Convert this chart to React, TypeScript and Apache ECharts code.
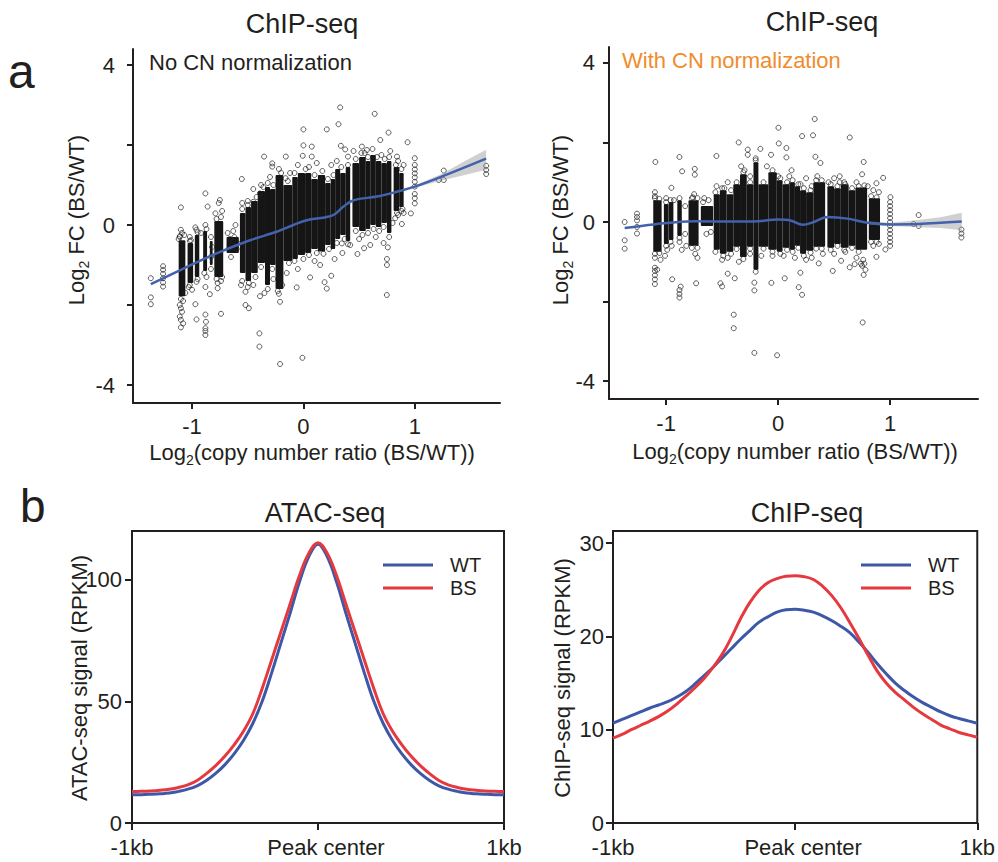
import React, { useEffect, useRef } from 'react';
import * as echarts from 'echarts';

const FONT = "'Liberation Sans', Arial, Helvetica, sans-serif";
const INK = '#231f20';
const BLUE = '#3d58a7';
const RED = '#e5393f';
const LOESS = '#4262ad';
const ORANGE = '#f08c2c';

// ---------- panel a : tick values ----------
const cnTicks = [-1, 0, 1];
const fcTicks = [-4, -2, 0, 2, 4];
const fcLabels = [-4, 0, 4];

// ---------- panel a (left): No CN normalization ----------
// dense cores of the point cloud: [xFrom, xTo, yLow, yHigh]
const leftCore = [
  [-1.12, -1.06, -1.78, -0.38],
  [-1.04, -0.99, -1.45, -0.45],
  [-0.975, -0.935, -1.3, -0.25],
  [-0.9, -0.865, -1.15, -0.15],
  [-0.84, -0.815, -1.0, -0.4],
  [-0.8, -0.72, -1.3, 0.1],
  [-0.69, -0.58, -0.7, -0.3],
  [-0.57, -0.52, -1.2, 0.3],
  [-0.52, -0.47, -1.4, 0.45],
  [-0.47, -0.41, -1.2, 0.6],
  [-0.41, -0.345, -0.95, 0.85],
  [-0.345, -0.3, -1.5, 0.95],
  [-0.3, -0.25, -1.0, 0.9],
  [-0.25, -0.18, -1.6, 1.25],
  [-0.18, -0.1, -0.9, 1.0],
  [-0.1, -0.05, -0.85, 1.2],
  [-0.05, 0.015, -0.75, 1.3],
  [0.015, 0.07, -0.7, 1.3],
  [0.07, 0.13, -0.6, 1.15],
  [0.13, 0.195, -0.66, 1.25],
  [0.195, 0.245, -0.5, 1.05],
  [0.245, 0.285, -0.6, 1.15],
  [0.285, 0.33, -0.35, 1.4],
  [0.33, 0.38, -0.25, 1.3],
  [0.38, 0.42, -0.4, 1.45],
  [0.44, 0.5, -0.05, 1.55],
  [0.5, 0.56, -0.15, 1.7],
  [0.56, 0.6, -0.1, 1.6],
  [0.6, 0.65, 0.0, 1.75],
  [0.65, 0.7, -0.05, 1.6],
  [0.7, 0.75, 0.05, 1.55],
  [0.75, 0.79, -0.2, 1.6],
  [0.81, 0.86, 0.35, 1.45],
  [0.86, 0.9, 0.45, 1.3],
];
// sparse points: [log2 CN ratio, log2 FC]
const leftPoints = [
  [-1.37, -1.33], [-1.37, -1.81], [-1.37, -1.98],
  [-1.26, -1.03], [-1.26, -1.12], [-1.26, -1.22], [-1.26, -1.33], [-1.26, -1.44], [-1.26, -1.54],
  [-1.1, 0.44], [-1.1, -0.12], [-1.09, -0.2], [-1.11, -0.28], [-1.08, -1.9], [-1.11, -2.0], [-1.1, -2.08],
  [-1.09, -2.17], [-1.11, -2.29], [-1.1, -2.37], [-1.08, -2.46], [-1.1, -2.56],
  [-1.02, -0.3], [-1.01, -0.38], [-1.03, -1.55], [-1.0, -1.62],
  [-0.97, -0.06], [-0.96, -0.12], [-0.96, -1.42], [-0.97, -1.98], [-0.96, -2.36],
  [-0.88, 0.79], [-0.86, 0.46], [-0.88, 0.0], [-0.87, -1.3], [-0.88, -1.55], [-0.88, -2.24],
  [-0.875, -2.42], [-0.88, -2.58], [-0.88, -2.65], [-0.88, -2.75], [-0.84, -1.73],
  [-0.83, -0.3], [-0.83, -1.1], [-0.82, -0.55], [-0.83, -0.8],
  [-0.79, 0.29], [-0.75, 0.625], [-0.74, -2.22], [-0.77, -1.58], [-0.76, 0.55], [-0.73, 0.35], [-0.74, -1.4], [-0.77, -1.45],
  [-0.68, -0.2], [-0.66, -0.35], [-0.64, -0.5], [-0.62, -0.3], [-0.6, -0.6], [-0.67, -0.6], [-0.63, -0.15],
  [-0.59, -0.45], [-0.65, -0.8], [-0.61, 0.0],
  [-0.553, 1.15], [-0.55, 0.55], [-0.52, -2.0], [-0.49, -2.08], [-0.52, -1.67], [-0.45, 0.58], [-0.39, 0.79],
  [-0.39, -1.78], [-0.395, -2.71], [-0.395, -3.04], [-0.353, 1.71],
  [-0.28, 1.54], [-0.28, 1.46], [-0.21, -3.475], [-0.21, -1.92], [-0.22, -1.72], [-0.16, 1.17], [-0.158, 1.71],
  [-0.06, -1.56], [-0.009, -3.32], [-0.006, 1.73], [0.0, 2.39], [0.0, 1.99], [-0.05, 1.5],
  [0.06, -1.31], [0.075, 1.96], [0.075, 1.71], [0.19, -1.43], [0.21, -1.59], [0.25, -1.27], [0.21, 2.39],
  [0.315, 2.52], [0.33, 2.94], [0.336, 1.98], [0.375, 1.89], [0.4, 1.71], [0.345, -0.46],
  [0.485, -0.725], [0.545, -0.58], [0.6, -0.5], [0.525, 1.96], [0.57, 1.875], [0.64, 2.78], [0.69, 2.125],
  [0.764, 2.31], [0.758, -0.56], [0.749, -1.75], [0.84, 1.71], [0.935, 2.07],
  [0.965, 0.29], [0.824, 0.17], [0.884, 0.025],
  [1.0, 1.67], [1.0, 1.5], [1.0, 1.39], [1.0, 1.29], [1.0, 1.19], [1.0, 1.08], [1.0, 0.96], [1.0, 0.775], [1.0, 0.67], [1.0, 0.54],
  [1.215, 1.125], [1.26, 1.36], [1.26, 1.125],
  [1.641, 1.48], [1.641, 1.375], [1.641, 1.275],
  [-0.3, 1.2], [-0.22, 1.4], [-0.12, 1.3], [0.05, 1.45], [0.12, 1.55], [0.25, 1.5], [0.3, 1.6], [0.45, 1.85],
  [0.55, 1.8], [0.62, 1.9], [0.7, 1.75], [0.78, 1.85], [0.85, 1.6], [0.9, 1.5], [-0.5, 0.6], [-0.45, 0.9], [-0.38, 1.0],
  [-0.45, -1.5], [-0.35, -1.7], [-0.27, -1.35], [-0.15, -1.2], [-0.05, -1.1], [0.1, -0.9], [0.15, -1.0],
  [0.28, -0.85], [0.35, -0.7], [0.42, -0.5], [0.5, -0.35], [0.65, -0.3], [0.72, -0.45], [0.75, -0.85],
  [0.75, -1.0], [0.8, 0.05], [0.85, 0.25], [0.9, 0.3], [0.88, 0.35], [-0.56, -1.5], [-0.5, -1.55],
  [-1.11, -0.3], [-1.07, -0.25], [-1.12, -0.35], [-1.02, -0.4], [-0.95, -0.18], [-0.92, -0.2], [-0.87, -0.1],
  [-0.78, 0.15], [-0.74, 0.2], [-0.55, 0.4], [-0.5, 0.5], [-0.42, 0.7], [-0.36, 0.95], [-0.32, 1.05],
  [-0.27, 1.0], [-0.2, 1.3], [-0.14, 1.1], [-0.08, 1.3], [0.02, 1.4], [0.1, 1.25], [0.17, 1.35], [0.22, 1.15],
  [0.27, 1.25], [0.34, 1.45], [0.4, 1.5], [0.47, 1.65], [0.52, 1.8], [0.58, 1.7], [0.66, 1.7], [0.73, 1.65],
  [0.77, 1.7], [0.83, 1.5], [0.88, 1.4],
  [-1.1, -1.85], [-1.06, -1.7], [-1.02, -1.5], [-0.95, -1.35], [-0.89, -1.2], [-0.78, -1.35], [-0.73, -1.3],
  [-0.55, -1.4], [-0.49, -1.45], [-0.43, -1.3], [-0.38, -1.05], [-0.32, -1.6], [-0.28, -1.1], [-0.23, -1.65],
  [-0.19, -1.5], [-0.13, -0.95], [-0.08, -0.9], [0.0, -0.85], [0.05, -0.75], [0.12, -0.7], [0.18, -0.72],
  [0.23, -0.6], [0.3, -0.45], [0.37, -0.35], [0.4, -0.48], [0.47, -0.15], [0.53, -0.25], [0.58, -0.2],
  [0.63, -0.1], [0.68, -0.15], [0.72, -0.05], [0.77, -0.3], [0.84, 0.3], [0.89, 0.4],
];
const leftLoessX = [-1.37, -1.1, -0.78, -0.48, -0.24, -0.09, 0.03, 0.19, 0.27, 0.36, 0.45, 0.66, 0.81, 1.0, 1.25, 1.64];
const leftLoessY = [-1.48, -1.12, -0.71, -0.38, -0.17, 0.0, 0.12, 0.19, 0.25, 0.46, 0.62, 0.71, 0.81, 0.96, 1.22, 1.66];
const leftBandX = [0.8, 1.0, 1.25, 1.45, 1.64];
const leftBandLo = [0.78, 0.93, 1.12, 1.25, 1.38];
const leftBandHi = [0.82, 0.99, 1.29, 1.6, 1.88];

// ---------- panel a (right): With CN normalization ----------
const rightCore = [
  [-1.115, -1.04, -0.75, 0.55],
  [-1.02, -0.977, -0.55, 0.45],
  [-0.975, -0.935, -0.45, 0.5],
  [-0.9, -0.86, -0.35, 0.55],
  [-0.8, -0.71, -0.6, 0.55],
  [-0.69, -0.58, -0.1, 0.4],
  [-0.575, -0.52, -0.7, 0.7],
  [-0.52, -0.46, -0.8, 0.8],
  [-0.46, -0.4, -0.75, 0.7],
  [-0.4, -0.34, -0.62, 0.95],
  [-0.34, -0.28, -0.88, 1.2],
  [-0.28, -0.22, -0.62, 0.95],
  [-0.22, -0.176, -1.2, 1.5],
  [-0.176, -0.087, -0.62, 0.95],
  [-0.087, -0.012, -0.7, 1.25],
  [-0.012, 0.04, -0.75, 1.05],
  [0.04, 0.1, -0.65, 0.95],
  [0.1, 0.15, -0.7, 1.0],
  [0.15, 0.196, -0.6, 0.9],
  [0.196, 0.25, -0.8, 0.8],
  [0.25, 0.315, -0.72, 0.75],
  [0.315, 0.42, -0.62, 1.0],
  [0.44, 0.5, -0.65, 0.9],
  [0.5, 0.56, -0.55, 0.85],
  [0.56, 0.63, -0.65, 0.95],
  [0.63, 0.69, -0.6, 0.8],
  [0.69, 0.795, -0.7, 0.87],
  [0.81, 0.91, -0.45, 0.6],
];
const rightPoints = [
  [-1.37, 0.0], [-1.37, -0.46], [-1.37, -0.67],
  [-1.26, 0.21], [-1.26, 0.125], [-1.26, 0.04], [-1.26, -0.125], [-1.26, -0.29],
  [-1.096, 1.51], [-1.1, 0.75], [-1.1, 0.65], [-1.1, -0.9], [-1.1, -1.15], [-1.1, -1.23], [-1.1, -1.34],
  [-1.1, -1.44], [-1.1, -1.56], [-1.08, -1.2], [-1.05, -0.95],
  [-1.0, 0.6], [-0.99, -0.7], [-1.01, -0.85],
  [-0.953, 0.86], [-0.946, -1.44], [-0.93, 0.55], [-0.95, -0.6],
  [-0.881, 1.635], [-0.857, 1.275], [-0.881, -1.71], [-0.881, -1.81], [-0.881, -1.9], [-0.87, -1.625],
  [-0.86, -0.7], [-0.88, -0.5],
  [-0.83, 0.4], [-0.83, -0.3], [-0.82, -0.6],
  [-0.744, 1.335], [-0.744, 1.19], [-0.732, -1.54], [-0.75, 0.7], [-0.74, -0.8], [-0.72, -0.9], [-0.76, 0.62],
  [-0.66, 0.6], [-0.64, -0.3], [-0.62, 0.55], [-0.6, -0.25], [-0.67, 0.5],
  [-0.551, 1.66], [-0.55, 0.9], [-0.515, -1.54], [-0.5, -1.62], [-0.45, -1.3], [-0.387, -1.415],
  [-0.396, -2.33], [-0.396, -2.67], [-0.352, 2.0], [-0.33, 1.4],
  [-0.271, 1.82], [-0.271, 1.69], [-0.212, -1.72], [-0.212, -1.525], [-0.212, -3.29], [-0.2, 1.6],
  [-0.158, 1.84], [-0.063, 1.69], [-0.06, -1.53], [-0.009, -3.35], [0.003, 2.37], [0.006, 1.975],
  [0.059, -1.415], [0.074, 1.86], [0.074, 1.625], [0.12, 1.3], [0.184, -1.64], [0.214, -1.83], [0.199, -1.275],
  [0.214, 2.16], [0.25, 1.1], [0.312, 2.18], [0.327, 2.59], [0.333, 1.64], [0.378, 1.485], [0.363, -1.04],
  [0.488, -1.23], [0.5625, -0.975], [0.5, 1.1], [0.55, 1.15], [0.64, 2.125], [0.64, -1.14], [0.684, -1.06],
  [0.764, 1.51], [0.764, -1.33], [0.755, -2.525], [0.75, -1.1], [0.76, -0.95],
  [0.878, 0.975], [0.938, 1.11], [0.878, -0.875], [0.958, -0.69], [0.85, 0.8], [0.9, 0.75],
  [1.003, 0.625], [1.0, 0.5], [1.0, 0.4], [1.0, 0.3], [1.0, 0.2], [1.0, 0.1], [1.0, 0.0], [1.0, -0.1],
  [1.0, -0.2], [1.0, -0.3], [1.0, -0.4], [1.0, -0.5], [1.0, -0.6],
  [1.21, -0.05], [1.255, 0.175], [1.255, -0.1],
  [1.637, -0.19], [1.637, -0.29], [1.637, -0.39],
  [-0.5, 0.85], [-0.45, 1.0], [-0.3, 1.3], [-0.25, 1.15], [-0.1, 1.4], [0.0, 1.15], [0.1, 1.15], [0.2, 0.95],
  [0.3, 0.9], [0.35, 1.15], [0.45, 1.0], [0.55, 1.0], [0.6, 0.95], [0.7, 1.0], [0.75, 1.2], [0.8, 0.9],
  [-0.5, -0.95], [-0.45, -0.9], [-0.35, -1.0], [-0.25, -0.8], [-0.15, -0.85], [-0.05, -0.85], [0.05, -0.85],
  [0.15, -0.9], [0.25, -0.95], [0.3, -0.9], [0.4, -0.8], [0.5, -0.8], [0.6, -0.75], [0.7, -0.9], [0.78, -1.2],
  [0.74, -1.05], [0.85, -0.6], [0.9, -0.55],
  [-1.1, 0.6], [-1.06, 0.58], [-1.0, 0.5], [-0.96, 0.55], [-0.88, 0.6], [-0.77, 0.6], [-0.72, 0.6],
  [-0.56, 0.75], [-0.48, 0.85], [-0.42, 0.8], [-0.37, 1.0], [-0.31, 1.25], [-0.25, 1.0], [-0.2, 1.55],
  [-0.13, 1.0], [-0.05, 1.3], [0.02, 1.1], [0.08, 1.0], [0.13, 1.05], [0.18, 0.95], [0.23, 0.85], [0.29, 0.8],
  [0.34, 1.05], [0.39, 1.05], [0.47, 0.95], [0.53, 0.9], [0.59, 1.0], [0.66, 0.85], [0.72, 0.9], [0.77, 0.92],
  [0.83, 0.65], [0.88, 0.62],
  [-1.1, -0.8], [-1.06, -0.78], [-1.0, -0.6], [-0.96, -0.5], [-0.88, -0.4], [-0.77, -0.65], [-0.72, -0.65],
  [-0.56, -0.75], [-0.49, -0.85], [-0.42, -0.8], [-0.37, -0.68], [-0.31, -0.93], [-0.25, -0.67], [-0.2, -1.25],
  [-0.13, -0.67], [-0.05, -0.75], [0.02, -0.8], [0.08, -0.7], [0.13, -0.75], [0.18, -0.65], [0.23, -0.85],
  [0.29, -0.77], [0.34, -0.67], [0.39, -0.67], [0.47, -0.7], [0.53, -0.6], [0.59, -0.7], [0.66, -0.65],
  [0.72, -0.75], [0.77, -1.05], [0.83, -0.5], [0.88, -0.5],
];
const rightLoessX = [-1.37, -1.11, -0.75, -0.4, -0.22, 0.0, 0.11, 0.22, 0.32, 0.44, 0.62, 0.8, 1.0, 1.25, 1.64];
const rightLoessY = [-0.15, -0.06, 0.02, 0.01, 0.01, 0.06, 0.04, -0.07, 0.0, 0.125, 0.085, -0.02, -0.06, -0.05, 0.01];
const rightBandX = [0.8, 1.0, 1.25, 1.45, 1.64];
const rightBandLo = [-0.06, -0.1, -0.13, -0.15, -0.21];
const rightBandHi = [0.02, -0.02, 0.05, 0.12, 0.23];

// ---------- panel b ----------
const profileTicks = [-1000, 0, 1000];
const atacTicks = [0, 50, 100];
const chipTicks = [0, 10, 20, 30];

// distance from peak center (bp), every 50 bp
const profileX = [-1000, -950, -900, -850, -800, -750, -700, -650, -600, -550, -500, -450, -400, -350, -300,
  -250, -200, -150, -100, -50, 0, 50, 100, 150, 200, 250, 300, 350, 400, 450, 500, 550, 600, 650, 700, 750,
  800, 850, 900, 950, 1000];
const atacWT = [11.6, 11.65, 11.8, 12.0, 12.3, 13.0, 13.9, 15.3, 17.5, 20.4, 24.0, 28.5, 34.0, 41.0, 50.0,
  61.5, 73.8, 86.2, 99.0, 109.4, 114.6, 109.4, 99.0, 86.2, 73.8, 61.5, 50.0, 41.0, 34.0, 28.5, 24.0, 20.4,
  17.5, 15.3, 13.9, 13.0, 12.3, 12.0, 11.8, 11.65, 11.6];
const atacBS = [12.9, 13.0, 13.2, 13.5, 13.9, 14.6, 15.7, 17.5, 20.3, 23.6, 27.5, 32.2, 37.8, 45.0, 55.3,
  66.8, 78.4, 90.0, 101.6, 110.8, 115.2, 110.8, 101.6, 90.0, 78.4, 66.8, 55.3, 45.0, 37.8, 32.2, 27.5, 23.6,
  20.3, 17.5, 15.7, 14.6, 13.9, 13.5, 13.2, 13.0, 12.9];
const chipWT = [10.7, 11.1, 11.5, 11.9, 12.3, 12.65, 13.0, 13.5, 14.1, 14.9, 15.8, 16.7, 17.7, 18.7, 19.7,
  20.6, 21.5, 22.1, 22.6, 22.85, 22.9, 22.8, 22.6, 22.2, 21.7, 21.1, 20.4, 19.4, 18.3, 17.1, 16.0, 15.0,
  14.2, 13.5, 12.9, 12.4, 11.9, 11.5, 11.2, 10.95, 10.7];
const chipBS = [9.1, 9.5, 10.0, 10.45, 10.9, 11.4, 12.0, 12.75, 13.6, 14.5, 15.5, 16.7, 18.1, 19.9, 21.9,
  23.6, 24.9, 25.75, 26.2, 26.45, 26.5, 26.4, 26.1, 25.4, 24.4, 23.1, 21.5, 19.8, 18.0, 16.3, 15.0, 14.0,
  13.2, 12.4, 11.7, 11.1, 10.5, 10.1, 9.7, 9.45, 9.2];

const zip = (xs: number[], ys: number[]) => xs.map((x, i) => [x, ys[i]]);

const coreRender = (params: any, api: any) => {
  const a = api.coord([api.value(0), api.value(3)]);
  const b = api.coord([api.value(1), api.value(2)]);
  return {
    type: 'rect',
    shape: { x: a[0], y: a[1], width: b[0] - a[0], height: b[1] - a[1], r: 1 },
    style: { fill: '#151515' },
  };
};

const bandRender = (bx: number[], lo: number[], hi: number[]) => (params: any, api: any) => {
  if (params.dataIndex !== 0) return null;
  const pts: number[][] = [];
  bx.forEach((x, i) => pts.push(api.coord([x, hi[i]])));
  for (let i = bx.length - 1; i >= 0; i--) pts.push(api.coord([bx[i], lo[i]]));
  return { type: 'polygon', shape: { points: pts }, style: { fill: 'rgba(150,150,150,0.45)' } };
};

const lineStyle = { color: INK, width: 2 };
const labelBase = { fontSize: 22, fontFamily: FONT, color: INK };

function scatterAxes(idx: number, xmin: number, xmax: number, xMargin: number, yMargin: number) {
  return {
    x: {
      type: 'value', gridIndex: idx, min: xmin, max: xmax,
      axisLine: { show: true, onZero: false, lineStyle },
      axisTick: { show: true, length: 6, customValues: cnTicks, lineStyle },
      axisLabel: { ...labelBase, margin: xMargin, customValues: cnTicks },
      splitLine: { show: false },
    },
    y: {
      type: 'value', gridIndex: idx, min: -4.45, max: 4.4,
      axisLine: { show: true, onZero: false, lineStyle },
      axisTick: { show: true, length: 6, customValues: fcTicks, lineStyle },
      axisLabel: { ...labelBase, margin: yMargin, customValues: fcLabels },
      splitLine: { show: false },
    },
  };
}

function profileAxes(idx: number, ymax: number, yTicks: number[], yMargin: number) {
  return {
    x: {
      type: 'value', gridIndex: idx, min: -1000, max: 1000,
      axisLine: { show: true, onZero: false, lineStyle },
      axisTick: { show: true, length: 7, customValues: profileTicks, lineStyle },
      axisLabel: {
        ...labelBase, margin: 13, customValues: profileTicks,
        formatter: (v: number) => (v === 0 ? '{pc|Peak center}' : v < 0 ? '-1kb' : '1kb'),
        rich: { pc: { ...labelBase, padding: [0, 0, 0, 16] } },
      },
      splitLine: { show: false },
    },
    y: {
      type: 'value', gridIndex: idx, min: 0, max: ymax,
      axisLine: { show: true, onZero: false, lineStyle },
      axisTick: { show: true, length: 7, customValues: yTicks, lineStyle },
      axisLabel: { ...labelBase, margin: yMargin, customValues: yTicks },
      splitLine: { show: false },
    },
  };
}

const subRich = { s: { fontSize: 14, fontFamily: FONT, fill: INK, padding: [15, 0, 0, 0] } };
const txt = (text: string, x: number, y: number, size: number, extra: any = {}) => ({
  type: 'text', x, y, ...extra,
  style: {
    text, fontSize: size, fontFamily: FONT, fill: extra.fill || INK,
    align: extra.align || 'center', verticalAlign: 'middle', rich: subRich,
  },
});

function buildOption() {
  const a0 = scatterAxes(0, -1.53, 1.765, 12, 18);
  const a1 = scatterAxes(1, -1.51, 1.785, 13, 14);
  const b0 = profileAxes(2, 120, atacTicks, 10);
  const b1 = profileAxes(3, 31.3, chipTicks, 9);
  const boxed = { show: true, borderColor: INK, borderWidth: 2, backgroundColor: 'transparent' };
  const pointStyle = { color: 'rgba(0,0,0,0)', borderColor: '#222', borderWidth: 0.9 };

  const scatterSeries = (idx: number, core: number[][], pts: number[][], lx: number[], ly: number[],
    bx: number[], blo: number[], bhi: number[]) => [
    { type: 'custom', xAxisIndex: idx, yAxisIndex: idx, renderItem: coreRender, data: core,
      encode: { x: [0, 1], y: [2, 3] }, z: 2, silent: true },
    { type: 'scatter', xAxisIndex: idx, yAxisIndex: idx, data: pts, symbol: 'circle', symbolSize: 5,
      itemStyle: pointStyle, z: 3, silent: true },
    { type: 'custom', xAxisIndex: idx, yAxisIndex: idx, renderItem: bandRender(bx, blo, bhi),
      data: bx.map((x, i) => [x, blo[i], bhi[i]]), encode: { x: 0, y: [1, 2] }, z: 4, silent: true },
    { type: 'line', xAxisIndex: idx, yAxisIndex: idx, data: zip(lx, ly), smooth: 0.35, symbol: 'none',
      lineStyle: { color: LOESS, width: 2.5 }, z: 5, silent: true },
  ];

  const profSeries = (idx: number, xs: number[], wt: number[], bs: number[]) => [
    { type: 'line', name: 'WT', xAxisIndex: idx, yAxisIndex: idx, data: zip(xs, wt), smooth: 0.4,
      symbol: 'none', lineStyle: { color: BLUE, width: 3 }, itemStyle: { color: BLUE }, z: 3 },
    { type: 'line', name: 'BS', xAxisIndex: idx, yAxisIndex: idx, data: zip(xs, bs), smooth: 0.4,
      symbol: 'none', lineStyle: { color: RED, width: 3 }, itemStyle: { color: RED }, z: 4 },
  ];

  const legendBase = {
    orient: 'vertical', itemWidth: 50, itemHeight: 3, itemGap: 3, icon: 'rect', data: ['WT', 'BS'],
    selectedMode: false, padding: 0,
    textStyle: { fontSize: 20, fontFamily: FONT, color: INK, padding: [0, 0, 0, 12] },
  };

  return {
    animation: false,
    backgroundColor: '#ffffff',
    textStyle: { fontFamily: FONT },
    grid: [
      { left: 133, top: 49, width: 367, height: 354 },
      { left: 609, top: 47, width: 369, height: 352 },
      { left: 132, top: 531, width: 372, height: 292, ...boxed },
      { left: 613, top: 531, width: 370, height: 292, ...boxed },
    ],
    xAxis: [a0.x, a1.x, b0.x, b1.x],
    yAxis: [a0.y, a1.y, b0.y, b1.y],
    legend: [
      { ...legendBase, left: 383, top: 555 },
      { ...legendBase, left: 861, top: 555 },
    ],
    series: [
      ...scatterSeries(0, leftCore, leftPoints, leftLoessX, leftLoessY, leftBandX, leftBandLo, leftBandHi),
      ...scatterSeries(1, rightCore, rightPoints, rightLoessX, rightLoessY, rightBandX, rightBandLo, rightBandHi),
      ...profSeries(2, profileX, atacWT, atacBS),
      ...profSeries(3, profileX, chipWT, chipBS),
    ],
    graphic: [
      txt('a', 8, 71, 48, { align: 'left' }),
      txt('b', 20, 506, 46, { align: 'left' }),
      txt('ChIP-seq', 302, 24, 27),
      txt('ChIP-seq', 822, 22, 27),
      txt('ATAC-seq', 325, 513, 27),
      txt('ChIP-seq', 807, 513, 27),
      txt('No CN normalization', 149, 62, 22, { align: 'left' }),
      txt('With CN normalization', 622, 60, 22, { align: 'left', fill: ORANGE }),
      txt('Log{s|2} FC (BS/WT)', 76, 220, 22, { rotation: Math.PI / 2 }),
      txt('Log{s|2} FC (BS/WT)', 560, 220, 22, { rotation: Math.PI / 2 }),
      txt('Log{s|2}(copy number ratio (BS/WT))', 312, 452, 22),
      txt('Log{s|2}(copy number ratio (BS/WT))', 795, 451, 22),
      txt('ATAC-seq signal (RPKM)', 79, 678, 22, { rotation: Math.PI / 2 }),
      txt('ChIP-seq signal (RPKM)', 562, 678, 22, { rotation: Math.PI / 2 }),
    ],
  };
}

export default function App() {
  const ref = useRef<HTMLDivElement>(null);
  useEffect(() => {
    const chart = echarts.init(ref.current as HTMLDivElement, null, { renderer: 'svg' });
    chart.setOption(buildOption() as any);
    return () => chart.dispose();
  }, []);
  return (
    <div
      ref={ref}
      style={{ position: 'absolute', left: 0, top: 0, width: 998, height: 862 }}
    />
  );
}
